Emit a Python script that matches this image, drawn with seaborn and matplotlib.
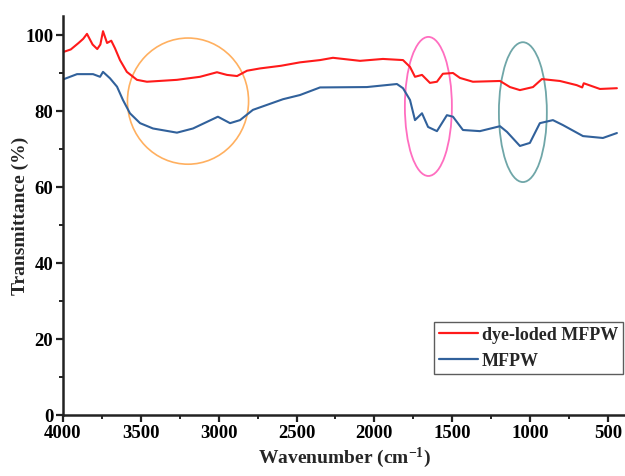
import matplotlib
matplotlib.use("Agg")
import matplotlib.pyplot as plt
from matplotlib.patches import Ellipse
from matplotlib.ticker import MultipleLocator
from matplotlib.lines import Line2D
import seaborn as sns
import pandas as pd

# dye-loaded MFPW (red)
dye_wn = [4000, 3950, 3900, 3870, 3846, 3810, 3780, 3760, 3743, 3717, 3690, 3666, 3634, 3590, 3525,
          3461, 3268, 3120, 3011, 2947, 2882, 2818, 2735, 2600, 2478, 2349, 2266, 2092, 1945,
          1816, 1771, 1739, 1694, 1643, 1598, 1560, 1495, 1450, 1367, 1193, 1129, 1065, 981,
          924, 808, 700, 665, 655, 551, 442]
dye_t = [95.5, 96.2, 97.9, 99.0, 100.3, 97.5, 96.3, 97.5, 101.0, 97.9, 98.5, 96.5, 93.4, 90.3, 88.2,
         87.7, 88.2, 89.0, 90.2, 89.5, 89.2, 90.6, 91.2, 91.9, 92.8, 93.4, 94.0, 93.2, 93.7,
         93.4, 91.6, 89.0, 89.5, 87.4, 87.7, 89.8, 90.0, 88.7, 87.7, 87.9, 86.3, 85.5, 86.3,
         88.4, 87.9, 86.8, 86.2, 87.3, 85.8, 86.0]

# MFPW (blue)
mfpw_wn = [4000, 3910, 3807, 3762, 3743, 3698, 3653, 3615, 3570, 3505, 3422, 3268, 3165, 3005,
           2927, 2863, 2780, 2587, 2478, 2349, 2048, 1855, 1816, 1771, 1739, 1694, 1655, 1598,
           1534, 1495, 1431, 1322, 1193, 1148, 1065, 1001, 937, 853, 789, 660, 532, 442]
mfpw_t = [88.3, 89.7, 89.7, 89.0, 90.3, 88.6, 86.4, 82.9, 79.4, 76.8, 75.4, 74.3, 75.4, 78.5,
          76.8, 77.6, 80.3, 83.1, 84.2, 86.2, 86.3, 87.1, 86.0, 82.9, 77.6, 79.4, 75.8, 74.7,
          78.9, 78.5, 75.0, 74.7, 76.0, 74.5, 70.8, 71.6, 76.8, 77.6, 76.3, 73.4, 72.9, 74.2]

labels = ["dye-loded MFPW", "MFPW"]
colors = {"dye-loded MFPW": "#FF1A1A", "MFPW": "#31619B"}

df = pd.concat([
    pd.DataFrame({"wn": dye_wn, "T": dye_t, "sample": labels[0]}),
    pd.DataFrame({"wn": mfpw_wn, "T": mfpw_t, "sample": labels[1]}),
])

sns.set_style("ticks")
plt.rcParams["font.family"] = ["Liberation Serif", "DejaVu Serif"]
plt.rcParams["font.weight"] = "bold"
plt.rcParams["mathtext.fontset"] = "custom"
plt.rcParams["mathtext.rm"] = "Liberation Serif:bold"
plt.rcParams["mathtext.bf"] = "Liberation Serif:bold"
plt.rcParams["mathtext.default"] = "bf"

fig = plt.figure(figsize=(6.25, 4.76), dpi=100)
ax = fig.add_axes([63 / 625, 1 - 415 / 476, 1 - 63 / 625, (415 - 16) / 476])

sns.lineplot(data=df, x="wn", y="T", hue="sample", palette=colors, hue_order=labels,
             estimator=None, sort=False, lw=1.5, ax=ax, legend=False)

ax.set_xlim(4000, 390)
ax.set_ylim(0, 105)
ax.xaxis.set_major_locator(MultipleLocator(500))
ax.xaxis.set_minor_locator(MultipleLocator(250))
ax.yaxis.set_major_locator(MultipleLocator(20))
ax.yaxis.set_minor_locator(MultipleLocator(10))
ax.tick_params(which="major", direction="out", length=5, width=1.6, labelsize=13.5, pad=2,
               colors="#222222", labelcolor="black")
ax.tick_params(which="minor", direction="out", length=3, width=1.4, colors="#222222")
for lab in ax.get_xticklabels() + ax.get_yticklabels():
    lab.set_fontweight("bold")
for s in ["top", "right"]:
    ax.spines[s].set_visible(False)
for s in ["left", "bottom"]:
    ax.spines[s].set_linewidth(1.8)
    ax.spines[s].set_color("#222222")

ax.set_xlabel(r"Wavenumber (cm$^{-1}$)", fontsize=14, fontweight="bold", labelpad=3)
ax.set_ylabel("Transmittance (%)", fontsize=14, fontweight="bold", labelpad=-3)

# highlight ellipses
ax.add_patch(Ellipse((3197, 82.6), 778, 33.2, fill=False, ec="#FFB060", lw=1.2))
ax.add_patch(Ellipse((1653, 81.2), 302, 36.6, fill=False, ec="#FF6EC0", lw=1.3))
ax.add_patch(Ellipse((1046, 79.7), 308, 36.8, fill=False, ec="#6FA6A8", lw=1.3))

handles = [Line2D([], [], color=colors[l], lw=1.6) for l in labels]
leg = fig.legend(handles, labels, loc="upper left", bbox_to_anchor=(434 / 625, 1 - 322 / 476),
                 frameon=True, fancybox=False, edgecolor="#333333",
                 prop={"weight": "bold", "size": 13}, handlelength=2.2, handletextpad=0.2,
                 borderpad=0.25, labelspacing=0.5, borderaxespad=0)
leg.get_frame().set_linewidth(1.0)

fig.savefig("out.png", dpi=100)
